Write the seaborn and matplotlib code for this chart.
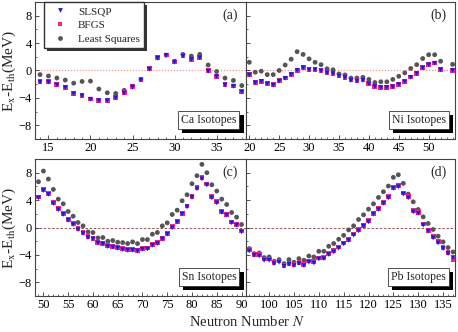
import pandas as pd
import matplotlib
matplotlib.use("Agg")
import matplotlib.pyplot as plt
import matplotlib.patheffects as pe
from matplotlib.ticker import MultipleLocator
import seaborn as sns

# ---- data (E_x - E_th in MeV) ----
methods = ["SLSQP", "BFGS", "Least Squares"]

ca_n = list(range(14, 39))
ca_slsqp = [-1.7, -1.7, -2.1, -2.5, -3.4, -3.7, -4.2, -4.4, -4.4, -4.0, -3.3, -2.4, -1.4,
            0.2, 1.8, 2.2, 1.2, 2.1, 1.6, 1.85, -0.1, -0.9, -2.1, -2.3, -3.15]
ca_bfgs = [-1.65, -1.65, -2.05, -2.45, -3.35, -3.65, -4.15, -4.35, -4.35, -3.95, -3.25, -2.35, -1.35,
           0.25, 1.85, 2.25, 1.25, 2.15, 1.65, 1.9, -0.05, -0.85, -2.05, -2.25, -3.1]
ca_ls = [-0.6, -0.8, -1.1, -1.4, -1.85, -1.6, -1.55, -2.7, -3.25, -3.35, -2.9, -2.4, -1.35,
         0.3, 1.85, 2.25, 1.35, 2.35, 2.1, 2.35, 0.8, -0.15, -1.1, -1.45, -2.2]

ni_n = list(range(20, 53)) + [54]
ni_slsqp = [-0.65, -1.8, -1.6, -1.95, -2.15, -1.55, -1.15, -0.6, 0.0, 0.4, 0.1, 0.1, -0.05,
            -0.35, -0.45, -0.8, -1.05, -1.45, -1.55, -1.45, -1.95, -2.35, -2.5, -2.5, -2.4,
            -2.05, -1.65, -1.0, -0.45, 0.35, 0.85, 1.05, 0.1, 0.0]
ni_bfgs = [-0.6, -1.75, -1.55, -1.9, -2.1, -1.5, -1.1, -0.55, 0.05, 0.45, 0.15, 0.15, 0.0,
           -0.3, -0.4, -0.75, -1.0, -1.4, -1.5, -1.4, -1.9, -2.3, -2.45, -2.45, -2.35,
           -2.0, -1.6, -0.95, -0.4, 0.4, 0.9, 1.1, 0.15, 0.05]
ni_ls = [1.2, -0.25, -0.1, -0.6, -0.6, 0.0, 0.8, 1.65, 2.75, 2.35, 1.7, 1.2, 0.85,
         0.25, 0.1, -0.5, -0.65, -1.1, -1.1, -1.0, -1.3, -1.75, -1.65, -1.65, -1.3,
         -0.85, -0.35, 0.3, 0.85, 1.75, 2.3, 2.3, 1.35, 0.9]

sn_n = list(range(49, 91))
sn_slsqp = [4.33, 5.4, 4.83, 3.5, 2.6, 1.9, 1.07, 0.44, -0.3, -0.88, -1.46, -1.67, -2.25, -2.4,
            -2.78, -2.88, -3.03, -3.22, -3.32, -3.32, -3.42, -3.18, -3.13, -2.6, -2.35, -1.67,
            -0.98, -0.05, 0.78, 1.95, 3.0, 4.4, 5.65, 7.1, 6.2, 4.33, 3.6, 2.2, 1.8, 0.68, 0.34, -0.64]
sn_bfgs = [4.45, 5.6, 4.95, 3.65, 2.75, 2.05, 1.2, 0.55, -0.2, -0.75, -1.35, -1.55, -2.15, -2.3,
           -2.65, -2.75, -2.9, -3.1, -3.2, -3.2, -3.3, -3.05, -3.0, -2.45, -2.2, -1.55,
           -0.85, 0.1, 0.9, 2.1, 3.15, 4.55, 5.8, 7.3, 6.35, 4.5, 3.75, 2.35, 1.95, 0.8, 0.45, -0.5]
sn_ls = [6.68, 8.24, 7.07, 5.56, 4.14, 3.46, 2.34, 1.65, 0.73, 0.24, -0.64, -0.73, -1.52, -1.46,
         -2.0, -1.9, -2.15, -2.2, -2.34, -2.1, -2.35, -1.76, -1.76, -0.98, -0.73, 0.24,
         0.68, 1.9, 2.53, 3.9, 4.78, 6.39, 7.56, 9.22, 8.0, 6.24, 5.32, 4.14, 3.36, 2.19, 1.51, 0.44]

pb_n = list(range(96, 138))
pb_slsqp = [-3.43, -4.06, -4.16, -4.79, -4.79, -5.27, -5.08, -5.67, -5.37, -5.56, -5.27, -5.56,
            -5.08, -5.18, -4.6, -4.54, -3.95, -3.57, -3.03, -2.4, -1.86, -1.13, -0.49, 0.19,
            0.82, 1.95, 2.63, 3.51, 4.33, 5.71, 5.95, 4.88, 4.33, 2.28, 2.05, 0.34, -0.54,
            -1.52, -2.25, -3.07, -3.81, -4.4]
pb_bfgs = [-3.25, -3.9, -4.0, -4.6, -4.6, -5.1, -4.9, -5.5, -5.2, -5.4, -5.1, -5.4,
           -4.9, -5.0, -4.45, -4.4, -3.8, -3.4, -2.85, -2.25, -1.7, -0.95, -0.3, 0.35,
           1.0, 2.1, 2.8, 3.7, 4.5, 5.85, 6.1, 5.05, 4.5, 2.45, 2.2, 0.5, -0.4,
           -1.35, -2.1, -2.95, -3.7, -4.7]
pb_ls = [-3.07, -3.81, -3.72, -4.39, -4.3, -4.93, -4.69, -5.27, -4.69, -5.08, -4.54, -4.79,
         -4.16, -4.3, -3.47, -3.47, -2.74, -2.34, -1.71, -1.15, -0.35, 0.24, 1.17, 1.85,
         2.68, 3.46, 4.39, 5.22, 6.05, 7.32, 7.7, 6.44, 4.88, 3.75, 2.63, 1.55, 0.58,
         -0.29, -1.27, -2.1, -2.93, -3.57]

palette = {"SLSQP": "#1a1aee", "BFGS": "#f0287f", "Least Squares": "#555555"}
markers = {"SLSQP": "v", "BFGS": "s", "Least Squares": "o"}

sns.set_style("ticks")
plt.rcParams["font.family"] = ["Liberation Serif", "DejaVu Serif"]
plt.rcParams["mathtext.fontset"] = "stix"

fig = plt.figure(figsize=(4.58, 3.32), dpi=100)
gs = fig.add_gridspec(2, 2, left=35 / 458, right=455 / 458, top=1 - 2 / 332, bottom=1 - 296 / 332,
                      wspace=0, hspace=0.146, width_ratios=[211, 209])

panels = [
    (gs[0, 0], ca_n, ca_slsqp, ca_bfgs, ca_ls, (13.4, 38.5), "(a)", "Ca Isotopes", True),
    (gs[0, 1], ni_n, ni_slsqp, ni_bfgs, ni_ls, (19.45, 54.4), "(b)", "Ni Isotopes", True),
    (gs[1, 0], sn_n, sn_slsqp, sn_bfgs, sn_ls, (48.3, 90.9), "(c)", "Sn Isotopes", False),
    (gs[1, 1], pb_n, pb_slsqp, pb_bfgs, pb_ls, (95.35, 137.4), "(d)", "Pb Isotopes", False),
]

for i, (spec, n, slsqp, bfgs, ls, xlim, tag, iso, top) in enumerate(panels):
    ax = fig.add_subplot(spec)
    # draw order: least squares under, BFGS, then SLSQP on top
    df = pd.concat([
        pd.DataFrame({"N": n, "dE": ls, "method": "Least Squares"}),
        pd.DataFrame({"N": n, "dE": bfgs, "method": "BFGS"}),
        pd.DataFrame({"N": n, "dE": slsqp, "method": "SLSQP"}),
    ], ignore_index=True)

    if top:
        ax.axhline(0, color="#f08a8a", ls=":", lw=0.8, zorder=0)
    else:
        ax.axhline(0, color="#8b3a3a", ls=(0, (3, 2)), lw=0.6, zorder=0)

    sns.scatterplot(data=df, x="N", y="dE", hue="method", style="method",
                    hue_order=methods, style_order=methods, palette=palette,
                    markers=markers, s=12, linewidth=0, ax=ax, legend=(i == 0))

    ax.set_xlim(*xlim)
    ax.set_ylim(-10, 10)
    ax.xaxis.set_major_locator(MultipleLocator(5))
    ax.xaxis.set_minor_locator(MultipleLocator(1))
    ax.yaxis.set_major_locator(MultipleLocator(4))
    ax.yaxis.set_minor_locator(MultipleLocator(2))
    ax.tick_params(which="both", direction="in", labelsize=9, colors="#333333", labelcolor="black")
    ax.tick_params(which="major", length=3, width=0.6, pad=2.5)
    ax.tick_params(which="minor", length=1.5, width=0.5)
    for sp in ax.spines.values():
        sp.set_color("#444444")
        sp.set_linewidth(0.8)
    ax.set_xlabel("")
    if i % 2 == 0:
        ax.set_ylabel("E$_{\\rm x}$-E$_{\\rm th}$(MeV)", fontsize=11)
        ax.yaxis.set_label_coords(-0.08, 0.5)
    else:
        ax.set_ylabel("")
        ax.tick_params(labelleft=False)

    ax.text(0.96, 0.9, tag, transform=ax.transAxes, ha="right", va="center", fontsize=10)
    t = ax.text(0.955, 0.14, iso, transform=ax.transAxes, ha="right", va="center", fontsize=8.5,
                bbox=dict(boxstyle="square,pad=0.25", fc="white", ec="#333333", lw=0.6))
    t.get_bbox_patch().set_path_effects([
        pe.SimplePatchShadow(offset=(3, -3), shadow_rgbFace="black", alpha=1.0),
        pe.Normal(),
    ])

    if i == 0:
        handles, labels = ax.get_legend_handles_labels()
        ax.legend(handles, labels, loc="upper left", bbox_to_anchor=(0.045, 1.0),
                  borderaxespad=0, fontsize=8, labelspacing=0.35, handletextpad=0.6,
                  markerscale=1.0, fancybox=False, framealpha=1, edgecolor="#333333",
                  shadow={"facecolor": "#333333", "edgecolor": "none", "alpha": 1})

fig.text(0.54, 0.03, "Neutron Number $N$", ha="center", va="center", fontsize=10.5)
fig.savefig("out.png", dpi=100)
